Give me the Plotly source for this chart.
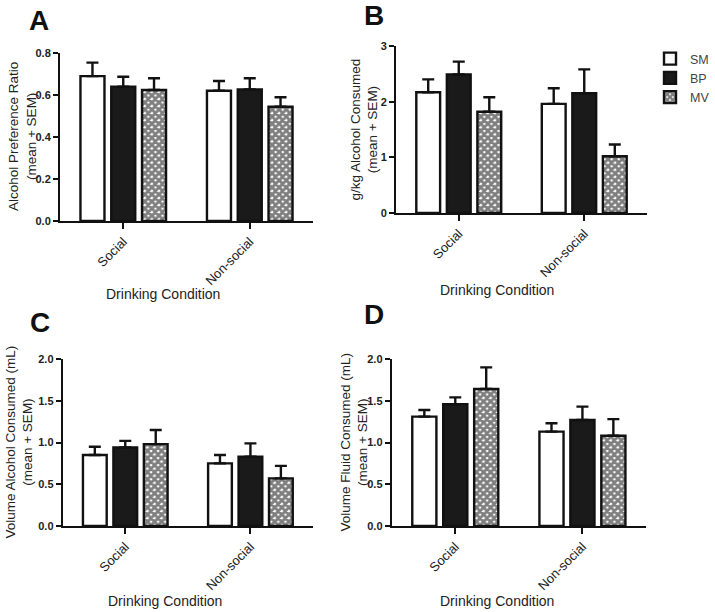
import plotly.graph_objects as go

categories = ["Social", "Non-social"]
groups = ["SM", "BP", "MV"]

# Panel A: Alcohol Preference Ratio
a_mean = {"SM": [0.690, 0.620], "BP": [0.640, 0.627], "MV": [0.624, 0.544]}
a_sem = {"SM": [0.064, 0.047], "BP": [0.047, 0.053], "MV": [0.056, 0.045]}
# Panel B: g/kg Alcohol Consumed
b_mean = {"SM": [2.17, 1.96], "BP": [2.49, 2.15], "MV": [1.82, 1.02]}
b_sem = {"SM": [0.23, 0.28], "BP": [0.23, 0.43], "MV": [0.26, 0.21]}
# Panel C: Volume Alcohol Consumed (mL)
c_mean = {"SM": [0.85, 0.75], "BP": [0.94, 0.83], "MV": [0.98, 0.57]}
c_sem = {"SM": [0.10, 0.10], "BP": [0.08, 0.16], "MV": [0.17, 0.15]}
# Panel D: Volume Fluid Consumed (mL)
d_mean = {"SM": [1.31, 1.13], "BP": [1.46, 1.27], "MV": [1.64, 1.08]}
d_sem = {"SM": [0.08, 0.10], "BP": [0.08, 0.16], "MV": [0.26, 0.20]}

y_titles = [
    "Alcohol Preference Ratio<br>(mean + SEM)",
    "g/kg Alcohol Consumed<br>(mean + SEM)",
    "Volume Alcohol Consumed (mL)<br>(mean + SEM)",
    "Volume Fluid Consumed (mL)<br>(mean + SEM)",
]
y_ranges = [[0, 0.8], [0, 3], [0, 2], [0, 2]]
y_tickvals = [[0, 0.2, 0.4, 0.6, 0.8], [0, 1, 2, 3], [0, 0.5, 1, 1.5, 2], [0, 0.5, 1, 1.5, 2]]
y_ticktext = [["0.0", "0.2", "0.4", "0.6", "0.8"], ["0", "1", "2", "3"],
              ["0.0", "0.5", "1.0", "1.5", "2.0"], ["0.0", "0.5", "1.0", "1.5", "2.0"]]
panel_letters = ["A", "B", "C", "D"]
x_title = "Drinking Condition"

W, H = 715, 612
# pixel boxes: (x0, x1, ytop, ybottom)
boxes = [(60, 313, 53, 221), (396, 647, 46, 213), (62.7, 313, 359, 526), (391.7, 646, 359, 526)]
letter_pos = [(39, 21), (374, 15), (40, 322), (374, 315)]
ytitle_x = [22, 364, 19, 354]          # centre x of the two-line y title
xtitle_pos = [(163, 294), (497, 290), (165, 601), (497, 601)]

styles = {
    "SM": dict(color="white", line=dict(color="#111", width=2.4)),
    "BP": dict(color="#1a1a1a", line=dict(color="#111", width=2.4)),
    "MV": dict(color="white", line=dict(color="#111", width=2.4),
               pattern=dict(shape="x", fgcolor="#000", size=5, solidity=0.8)),
}

fig = go.Figure()
datasets = [(a_mean, a_sem), (b_mean, b_sem), (c_mean, c_sem), (d_mean, d_sem)]
for i, (m, s) in enumerate(datasets):
    xa = "x" if i == 0 else f"x{i+1}"
    ya = "y" if i == 0 else f"y{i+1}"
    for g in groups:
        fig.add_trace(go.Bar(
            x=categories, y=m[g], name=g, xaxis=xa, yaxis=ya,
            marker=styles[g], showlegend=(i == 1),
            offsetgroup=g,
            error_y=dict(type="data", array=s[g], arrayminus=[0] * len(s[g]),
                         symmetric=False, color="#111", thickness=2.4, width=6),
        ))

layout = dict(
    width=W, height=H, margin=dict(l=0, r=0, t=0, b=0, autoexpand=False),
    paper_bgcolor="white", plot_bgcolor="white",
    barmode="group", bargap=0.27, bargroupgap=0.22,
    font=dict(family="Liberation Sans, Arial", color="#222"),
    showlegend=True,
    legend=dict(x=650 / W, y=1 - 44 / H, xanchor="left", yanchor="top",
                font=dict(size=12.5, color="#444"), tracegroupgap=0,
                itemwidth=30, bgcolor="rgba(0,0,0,0)"),
)
annotations = []
for i, (x0, x1, yt, yb) in enumerate(boxes):
    xk = "xaxis" if i == 0 else f"xaxis{i+1}"
    yk = "yaxis" if i == 0 else f"yaxis{i+1}"
    ya = "y" if i == 0 else f"y{i+1}"
    xa = "x" if i == 0 else f"x{i+1}"
    layout[xk] = dict(
        domain=[x0 / W, x1 / W], anchor=ya, range=[-0.5, 1.5], automargin=False,
        showline=True, linecolor="#111", linewidth=2, ticks="outside",
        ticklen=6, tickwidth=2, tickcolor="#111", tickangle=-45,
        tickfont=dict(size=13, color="#222"), showgrid=False, zeroline=False,
    )
    layout[yk] = dict(
        domain=[1 - yb / H, 1 - yt / H], anchor=xa, range=y_ranges[i], automargin=False,
        tickvals=y_tickvals[i], ticktext=y_ticktext[i],
        showline=True, linecolor="#111", linewidth=2, ticks="outside",
        ticklen=5, tickwidth=2, tickcolor="#111",
        tickfont=dict(size=11, color="#222", family="Liberation Sans, Arial", weight="bold"),
        showgrid=False, zeroline=False,
    )
    lx, ly = letter_pos[i]
    annotations.append(dict(text=f"<b>{panel_letters[i]}</b>", x=lx / W, y=1 - ly / H,
                            xref="paper", yref="paper", showarrow=False,
                            xanchor="center", yanchor="middle",
                            font=dict(size=28, color="#111")))
    annotations.append(dict(text=y_titles[i], x=ytitle_x[i] / W, y=1 - (yt + yb) / 2 / H,
                            xref="paper", yref="paper", showarrow=False, textangle=-90,
                            xanchor="center", yanchor="middle",
                            font=dict(size=13.5, color="#222")))
    tx, ty = xtitle_pos[i]
    annotations.append(dict(text=x_title, x=tx / W, y=1 - ty / H,
                            xref="paper", yref="paper", showarrow=False,
                            xanchor="center", yanchor="middle",
                            font=dict(size=14, color="#222")))
layout["annotations"] = annotations
fig.update_layout(**layout)
fig.write_html("out.html", config={"displayModeBar": False},
               post_script="document.body.style.margin='0';")
